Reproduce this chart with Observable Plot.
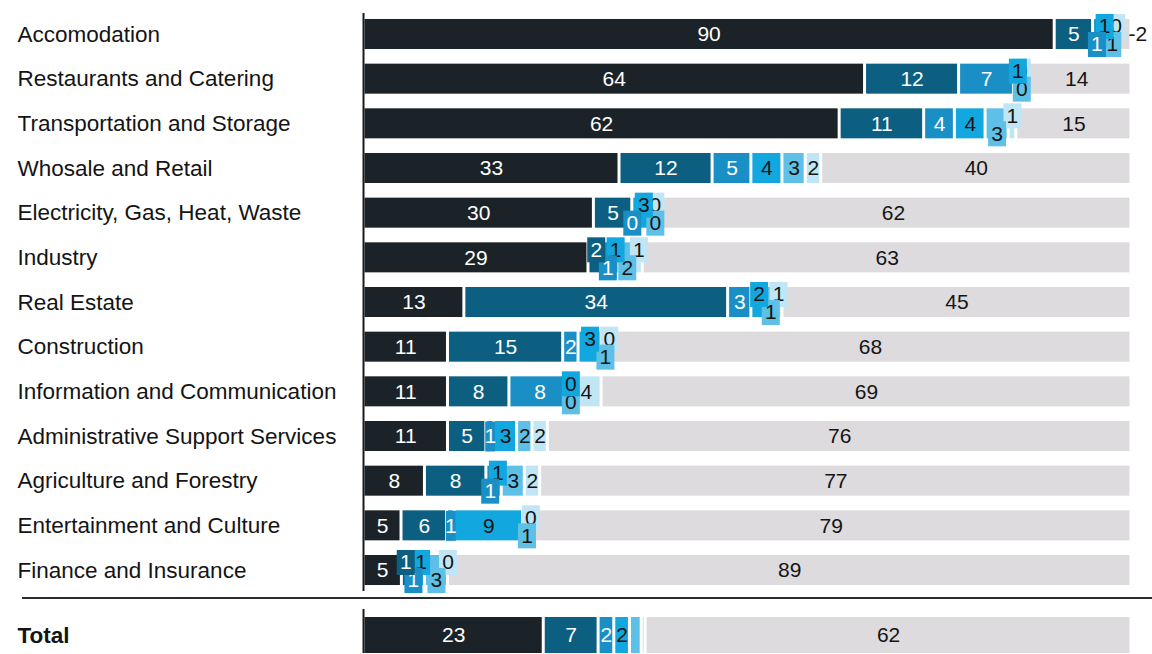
<!DOCTYPE html>
<html>
<head>
<meta charset="utf-8">
<script src="https://cdn.jsdelivr.net/npm/d3@7"></script>
<script src="https://cdn.jsdelivr.net/npm/@observablehq/plot@0.6"></script>
<style>
  body { margin: 0; background: #fff; font-family: "Liberation Sans", Arial, sans-serif; }
  svg { display: block; }
  #sep { margin-left: 22px; width: 1130px; height: 0; border-top: 2px solid #2b2b2b; }
</style>
</head>
<body>
<div id="chart"></div>
<script>
// ---- data ----
const categories = [
  "Accomodation", "Restaurants and Catering", "Transportation and Storage",
  "Whosale and Retail", "Electricity, Gas, Heat, Waste", "Industry", "Real Estate",
  "Construction", "Information and Communication", "Administrative Support Services",
  "Agriculture and Forestry", "Entertainment and Culture", "Finance and Insurance"
];
const seg1 = [90, 64, 62, 33, 30, 29, 13, 11, 11, 11, 8, 5, 5];
const seg2 = [5, 12, 11, 12, 5, 2, 34, 15, 8, 5, 8, 6, 1];
const seg3 = [1, 7, 4, 5, 0, 1, 3, 2, 8, 1, 1, 1, 1];
const seg4 = [1, 1, 4, 4, 3, 1, 2, 3, 0, 3, 1, 9, 1];
const seg5 = [1, 0, 3, 3, 0, 2, 1, 1, 0, 2, 3, 1, 3];
const seg6 = [0, 0, 1, 2, 0, 1, 1, 0, 4, 2, 2, 0, 0];
const rest = [2, 14, 15, 40, 62, 63, 45, 68, 69, 76, 77, 79, 89];

const totalCategory = "Total";
const totalValues = [23, 7, 2, 2, 1.5, 0.5];
const totalRest = 62;
const totalLabels = ["23", "7", "2", "2", "", "", "62"];

const segColors = ["#1c2328", "#0c5f80", "#1a8fc6", "#12a7df", "#5ec0e6", "#c0e5f4", "#dddbde"];

// ---- layout helpers ----
function layoutRow(cat, vals, restVal, labels) {
  const all = [...vals, restVal];
  const total = d3.sum(all);
  let cum = 0;
  const out = all.map((v, k) => {
    const x1 = cum / total * 100; cum += v; const x2 = cum / total * 100;
    return {cat, k, v, x1, x2, mid: (x1 + x2) / 2, label: labels ? labels[k] : String(v)};
  });
  const isSmall = k => {
    if (k < 1 || k > 5) return false;
    const v = all[k];
    if (v === 0) return true;
    if (v > 1) return false;
    return k === 5 || all[k - 1] <= 2 || all[k + 1] <= 2;
  };
  out.forEach(d => {
    const k = d.k;
    d.boxed = k >= 1 && k <= 5 && (isSmall(k) || (d.v <= 3 && isSmall(k + 1)));
    d.up = k % 2 === 1;
    d.outside = k === 6 && (d.x2 - d.x1) < 4;
    d.narrow = !d.boxed && !d.outside && (d.x2 - d.x1) < 1.6;
  });
  return out;
}

const barsMain = categories.flatMap((c, i) =>
  layoutRow(c, [seg1[i], seg2[i], seg3[i], seg4[i], seg5[i], seg6[i]], rest[i]));
const rows = barsMain.filter(d => d.label !== "");
const totalRows = layoutRow(totalCategory, totalValues, totalRest, null);
const totalText = layoutRow(totalCategory, totalValues, totalRest, totalLabels).filter(d => d.label !== "");

const rectSymbol = {draw(context) { context.rect(-9, -12.5, 18, 25); }};
const narrowSymbol = {draw(context) { context.rect(-5, -15, 10, 30); }};
const dark = "#141414";
const FS = 21;

function labelMarks(data) {
  const marks = [];
  const inline = data.filter(d => !d.boxed && !d.outside);
  for (let k = 1; k <= 5; k++) {
    const nar = inline.filter(d => d.narrow && d.k === k);
    if (nar.length) marks.push(Plot.dot(nar, {x: "mid", y: "cat", symbol: narrowSymbol, fill: segColors[k], stroke: "none"}));
  }
  marks.push(Plot.text(inline.filter(d => d.k <= 2), {x: "mid", y: "cat", text: "label", fill: "white", fontSize: FS}));
  marks.push(Plot.text(inline.filter(d => d.k > 2), {x: "mid", y: "cat", text: "label", fill: dark, fontSize: FS}));
  marks.push(Plot.text(data.filter(d => d.outside), {x: 100, y: "cat", text: d => "-" + d.label, fill: dark, fontSize: FS, textAnchor: "start", dx: -3}));
  for (let k = 5; k >= 1; k--) {
    for (const up of [true, false]) {
      const sub = data.filter(d => d.boxed && d.k === k && d.up === up);
      if (!sub.length) continue;
      const dy = up ? -8 : 10;
      marks.push(Plot.dot(sub, {x: "mid", y: "cat", dy, symbol: rectSymbol, fill: segColors[k], stroke: "none"}));
      marks.push(Plot.text(sub, {x: "mid", y: "cat", dy, text: "label", fill: k <= 2 ? "white" : dark, fontSize: FS}));
    }
  }
  return marks;
}

const common = {
  width: 1152,
  marginLeft: 363,
  marginRight: 21,
  x: {domain: [0, 100], axis: null},
  color: {type: "ordinal", domain: d3.range(7), range: segColors},
  style: {fontFamily: "'Liberation Sans', Arial, sans-serif", background: "white", overflow: "visible"}
};

const plotMain = Plot.plot({
  ...common,
  height: 597,
  marginTop: 13,
  marginBottom: 6,
  y: {domain: categories, paddingInner: 0.328, paddingOuter: 0.134, round: false},
  marks: [
    Plot.barX(barsMain, {x1: "x1", x2: "x2", y: "cat", fill: "k", insetLeft: 1.5, insetRight: 1.5}),
    Plot.ruleX([0], {stroke: "#1a1a1a", strokeWidth: 2}),
    Plot.axisY({tickSize: 0, tickPadding: 0, textAnchor: "start", dx: -346, fontSize: 22.5, fill: dark, label: null}),
    ...labelMarks(rows)
  ]
});

const plotTotal = Plot.plot({
  ...common,
  height: 54,
  marginTop: 18,
  marginBottom: 0,
  y: {domain: [totalCategory], padding: 0, round: false},
  marks: [
    Plot.barX(totalRows, {x1: "x1", x2: "x2", y: "cat", fill: "k", insetLeft: 1.5, insetRight: 1.5}),
    Plot.ruleX([0], {stroke: "#1a1a1a", strokeWidth: 2, insetTop: -8}),
    Plot.axisY({tickSize: 0, tickPadding: 0, textAnchor: "start", dx: -346, fontSize: 22.5, fontWeight: "bold", fill: dark, label: null}),
    ...labelMarks(totalText)
  ]
});

const root = document.getElementById("chart");
root.append(plotMain);
const sep = document.createElement("div");
sep.id = "sep";
root.append(sep);
root.append(plotTotal);
</script>
</body>
</html>
